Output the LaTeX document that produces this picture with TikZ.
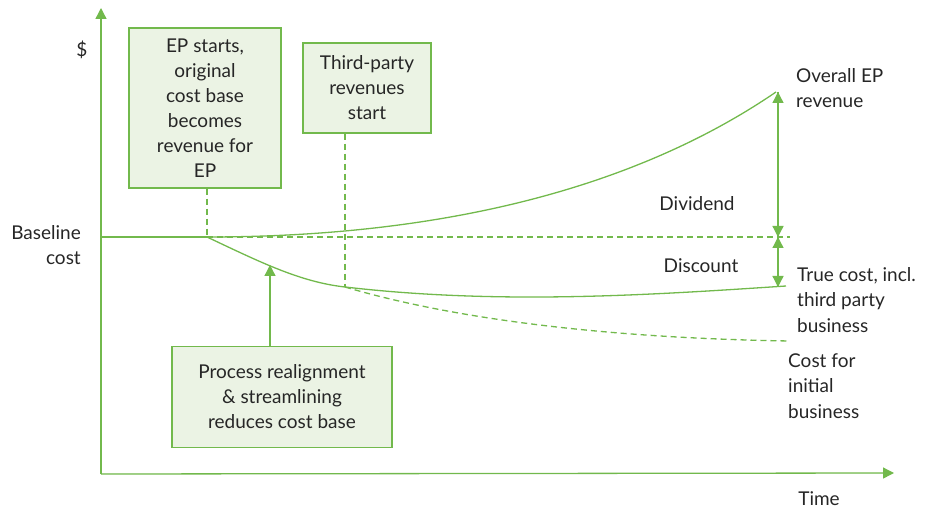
\documentclass[tikz,border=0pt]{standalone}
\usepackage{fontspec}
\setmainfont{Lato}
\usetikzlibrary{arrows.meta}
\definecolor{gline}{HTML}{72B94C}
\definecolor{gfill}{HTML}{EBF3E4}
\definecolor{txt}{HTML}{262626}
\begin{document}
\begin{tikzpicture}[x=1pt,y=-1pt,
  line/.style={draw=gline,line width=1.3pt},
  dline/.style={draw=gline,line width=1.3pt,dash pattern=on 6pt off 4pt},
  tip/.style={-{Triangle[width=11pt,length=11pt]}},
  box/.style={draw=gline,fill=gfill,line width=1.3pt,text=txt,align=center,font=\fontsize{19}{25}\selectfont,inner sep=0pt},
  lbl/.style={text=txt,font=\fontsize{19}{25.5}\selectfont,inner sep=0pt}]
\useasboundingbox (0,0) rectangle (934,510);
% axes
\coordinate (O) at (101,474);
\coordinate (ytop) at (101,8);
\coordinate (xend) at (894,473);
\draw[line,tip,fill=gline] (O) -- (ytop);
\draw[line,tip,fill=gline] (O) -- (xend);
% coordinates
\coordinate (b0) at (101,237);
\coordinate (s) at (207,237);
\coordinate (t) at (345,287);
\coordinate (rev) at (776,92);
\coordinate (tc) at (786,286);
\coordinate (ci) at (790,341);
\coordinate (dend) at (790,237);
\coordinate (ax) at (778,237);
\coordinate (axr) at (778,92);
\coordinate (axc) at (778,287);
\coordinate (pa) at (270,265);
% lines
\draw[line] (b0) -- (s);
\draw[dline] (s) -- (dend);
\draw[line] (s) .. controls (450,237) and (640,185) .. (rev);
\draw[line] (s) .. controls (260,262) and (300,282) .. (t) .. controls (500,305) and (650,295) .. (tc);
\draw[dline] (t) .. controls (450,318) and (600,338) .. (ci);
% boxes
\node[box,minimum width=152pt,minimum height=160pt] (ep) at (205,108) {EP starts,\\original\\cost base\\becomes\\revenue for\\EP};
\node[box,minimum width=128pt,minimum height=90pt] (tp) at (367,88) {Third-party\\revenues\\start};
\node[box,minimum width=220pt,minimum height=101pt] (pr) at (282,397) {Process realignment\\\& streamlining\\reduces cost base};
\draw[dline] (ep.south -| s) -- (s);
\draw[dline] (tp.south -| t) -- (t);
\draw[line,tip,fill=gline] (pr.north -| pa) -- (pa);
% dimension arrows
\draw[line,tip,fill=gline] (ax) -- (axr);
\draw[line,tip,fill=gline] (axr) -- (ax);
\draw[line,tip,fill=gline] (ax) -- (axc);
\draw[line,tip,fill=gline] (axc) -- (ax);
% labels
\node[lbl] (dollar) at (82,50) {\$};
\node[lbl,align=right,anchor=east] (base) at (81,245) {Baseline\\cost};
\node[lbl] (div) at (697,204) {Dividend};
\node[lbl] (disc) at (701,266) {Discount};
\node[lbl,align=left,anchor=west] (orev) at (796,88) {Overall EP\\revenue};
\node[lbl,align=left,anchor=west] (tcl) at (797,300) {True cost, incl.\\third party\\business};
\node[lbl,align=left,anchor=west] (cil) at (788,386) {Cost for\\initial\\business};
\node[lbl] (time) at (819,499) {Time};
\end{tikzpicture}
\end{document}
